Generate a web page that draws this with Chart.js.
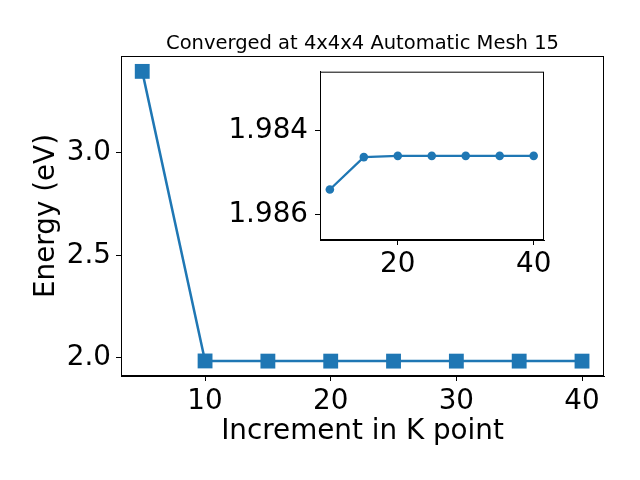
<!DOCTYPE html>
<html>
<head>
<meta charset="utf-8">
<script src="https://cdn.jsdelivr.net/npm/chart.js"></script>
<style>
  body { margin: 0; background: white; }
  #wrap { position: relative; width: 640px; height: 480px; }
  #inset { position: absolute; left: 200px; top: 48px; }
</style>
</head>
<body>
<div id="wrap">
  <canvas id="mainChart" width="640" height="480"></canvas>
  <canvas id="inset" width="360" height="237"></canvas>
</div>
<script>
// data
const kpoints = [5, 10, 15, 20, 25, 30, 35, 40];
const energy = [3.398, 1.9854, 1.98463, 1.9846, 1.9846, 1.9846, 1.9846, 1.9846];
const mainXTicks = [10, 20, 30, 40];
const mainYTicks = [2.0, 2.5, 3.0];
const insetXTicks = [20, 40];
const insetYTicks = [1.984, 1.986];

const insetK = kpoints.slice(1);
const insetE = energy.slice(1);

const blue = "#1f77b4";
const big = 27.8;

Chart.defaults.font.family = "'DejaVu Sans', sans-serif";
Chart.defaults.color = "black";

// box round the plot area (top and right sides too)
const frame = {
  id: "frame",
  afterDraw(chart) {
    const a = chart.chartArea;
    const c = chart.ctx;
    c.save();
    c.strokeStyle = "black";
    c.lineWidth = 1;
    c.strokeRect(a.left + 0.5, a.top + 0.5, a.right - a.left - 1, a.bottom - a.top - 1);
    c.restore();
  }
};

function fixed(list) {
  return function (scale) {
    scale.ticks = list.map(v => ({ value: v }));
  };
}

new Chart(document.getElementById("mainChart"), {
  type: "line",
  data: {
    datasets: [{
      data: kpoints.map((k, i) => ({ x: k, y: energy[i] })),
      borderColor: blue,
      backgroundColor: blue,
      borderWidth: 2.5,
      pointStyle: "rect",
      pointRadius: 10.5,
      pointBorderWidth: 0,
      tension: 0
    }]
  },
  options: {
    responsive: false,
    animation: false,
    devicePixelRatio: 1,
    layout: { padding: { top: 0, right: 36, bottom: 0, left: 0 } },
    plugins: {
      legend: { display: false },
      tooltip: { enabled: false },
      title: {
        display: true,
        text: "Converged at 4x4x4 Automatic Mesh 15",
        fullSize: false,
        font: { size: 19.5, weight: "normal" },
        padding: { top: 32, bottom: 0.6 }
      }
    },
    scales: {
      x: {
        type: "linear",
        min: 3.31,
        max: 41.75,
        afterBuildTicks: fixed(mainXTicks),
        afterFit: s => { s.height = 104; },
        ticks: { font: { size: big }, padding: 4, maxRotation: 0 },
        grid: { drawOnChartArea: false, tickLength: 5, color: "black" },
        border: { color: "black" },
        title: { display: true, text: "Increment in K point", font: { size: big }, padding: { top: 0, bottom: 32 } }
      },
      y: {
        min: 1.912,
        max: 3.473,
        afterBuildTicks: fixed(mainYTicks),
        afterFit: s => { s.width = 121; },
        ticks: { font: { size: big }, padding: 5, callback: v => v.toFixed(1) },
        grid: { drawOnChartArea: false, tickLength: 5, color: "black" },
        border: { color: "black" },
        title: { display: true, text: "Energy (eV)", font: { size: big }, padding: { top: 30, bottom: 0 } }
      }
    }
  },
  plugins: [frame]
});

new Chart(document.getElementById("inset"), {
  type: "line",
  data: {
    datasets: [{
      data: insetK.map((k, i) => ({ x: k, y: insetE[i] })),
      borderColor: blue,
      backgroundColor: blue,
      borderWidth: 2.3,
      pointStyle: "circle",
      pointRadius: 4.3,
      pointBorderWidth: 0,
      tension: 0
    }]
  },
  options: {
    responsive: false,
    animation: false,
    devicePixelRatio: 1,
    layout: { padding: { top: 6, right: 16, bottom: 0, left: 0 } },
    plugins: {
      legend: { display: false },
      tooltip: { enabled: false }
    },
    scales: {
      x: {
        type: "linear",
        min: 8.55,
        max: 41.52,
        afterBuildTicks: fixed(insetXTicks),
        afterFit: s => { s.height = 45; },
        ticks: { font: { size: big }, padding: 3, maxRotation: 0 },
        grid: { drawOnChartArea: false, tickLength: 5, color: "black" },
        border: { color: "black" }
      },
      y: {
        reverse: true,
        min: 1.9826,
        max: 1.9866,
        afterBuildTicks: fixed(insetYTicks),
        afterFit: s => { s.width = 120; },
        ticks: { font: { size: big }, padding: 7, callback: v => v.toFixed(3) },
        grid: { drawOnChartArea: false, tickLength: 5, color: "black" },
        border: { color: "black" }
      }
    }
  },
  plugins: [frame]
});
</script>
</body>
</html>
